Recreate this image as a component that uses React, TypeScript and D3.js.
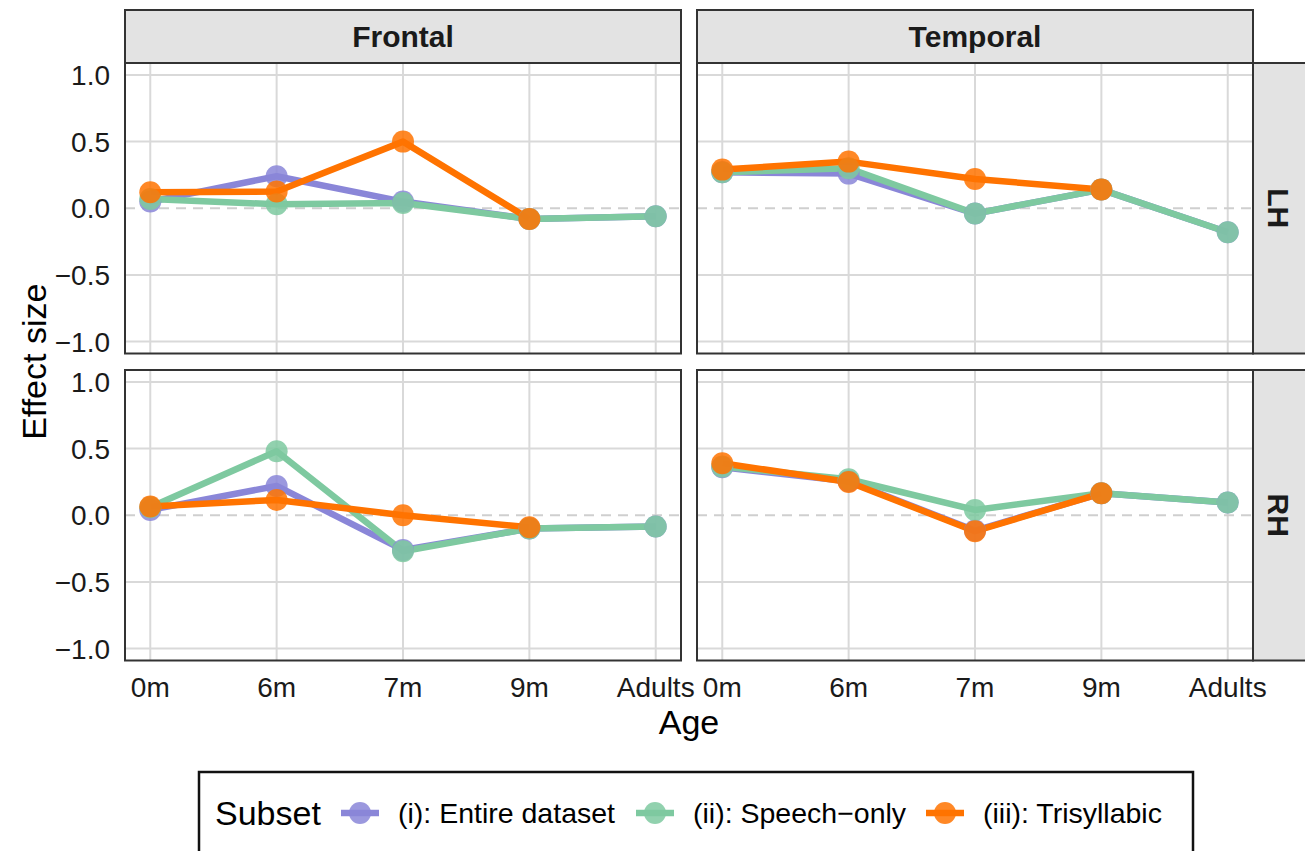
import React from "react";
import * as d3 from "d3";

const ages = ["0m", "6m", "7m", "9m", "Adults"];
const regions = ["Frontal", "Temporal"];
const hemispheres = ["LH", "RH"];
const subsets = ["(i): Entire dataset", "(ii): Speech\u2212only", "(iii): Trisyllabic"];
const subsetColors = ["#8a86d8", "#7ec9a0", "#ff7300"];
const yTicks = [1.0, 0.5, 0.0, -0.5, -1.0];
const yTickLabels = ["1.0", "0.5", "0.0", "\u22120.5", "\u22121.0"];

// values per panel: [subset][age]
const frontalLH_entire = [0.05, 0.24, 0.05, -0.08, -0.06];
const frontalLH_speech = [0.07, 0.03, 0.04, -0.08, -0.06];
const frontalLH_tri = [0.12, 0.125, 0.5, -0.08, null];

const temporalLH_entire = [0.27, 0.26, -0.04, 0.14, -0.18];
const temporalLH_speech = [0.27, 0.3, -0.04, 0.14, -0.18];
const temporalLH_tri = [0.29, 0.35, 0.22, 0.14, null];

const frontalRH_entire = [0.04, 0.22, -0.26, -0.1, -0.085];
const frontalRH_speech = [0.06, 0.48, -0.27, -0.1, -0.085];
const frontalRH_tri = [0.065, 0.115, 0.0, -0.09, null];

const temporalRH_entire = [0.36, 0.255, -0.115, 0.165, 0.095];
const temporalRH_speech = [0.365, 0.27, 0.04, 0.165, 0.095];
const temporalRH_tri = [0.39, 0.25, -0.12, 0.165, null];

const panelData: Record<string, (number | null)[][]> = {
  "Frontal-LH": [frontalLH_entire, frontalLH_speech, frontalLH_tri],
  "Temporal-LH": [temporalLH_entire, temporalLH_speech, temporalLH_tri],
  "Frontal-RH": [frontalRH_entire, frontalRH_speech, frontalRH_tri],
  "Temporal-RH": [temporalRH_entire, temporalRH_speech, temporalRH_tri],
};

const W = 1305;
const H = 851;
const colX = [125, 697];
const panelW = 556;
const rowY = [63, 370];
const panelH = 290.5;
const stripTop = 10;
const rightStripX = 1253;
const font = "'Liberation Sans', Arial, Helvetica, sans-serif";

function Panel({ region, hemi, ci, ri }: { region: string; hemi: string; ci: number; ri: number }) {
  const x0 = colX[ci];
  const y0 = rowY[ri];
  const x = d3.scalePoint<string>().domain(ages).range([x0, x0 + panelW]).padding(0.2);
  const y = d3.scaleLinear().domain([-1.09, 1.09]).range([y0 + panelH, y0]);
  const data = panelData[`${region}-${hemi}`];
  const line = d3
    .line<number | null>()
    .defined((d) => d !== null)
    .x((_, i) => x(ages[i]) as number)
    .y((d) => y(d as number));
  return (
    <g>
      <rect x={x0} y={y0} width={panelW} height={panelH} fill="#fff" />
      {yTicks
        .filter((t) => t !== 0)
        .map((t) => (
          <line key={t} x1={x0} x2={x0 + panelW} y1={y(t)} y2={y(t)} stroke="#d9d9d9" strokeWidth={2} />
        ))}
      {ages.map((a) => (
        <line key={a} x1={x(a)} x2={x(a)} y1={y0} y2={y0 + panelH} stroke="#d9d9d9" strokeWidth={2} />
      ))}
      <line x1={x0} x2={x0 + panelW} y1={y(0)} y2={y(0)} stroke="#cfcfcf" strokeWidth={2} strokeDasharray="10,7" />
      {data.map((vals, si) => (
        <path key={si} d={line(vals) || ""} fill="none" stroke={subsetColors[si]} strokeWidth={6.5} strokeLinejoin="round" />
      ))}
      {data.map((vals, si) =>
        vals.map((v, i) =>
          v === null ? null : (
            <circle key={`${si}-${i}`} cx={x(ages[i])} cy={y(v)} r={11} fill={subsetColors[si]} fillOpacity={0.85} />
          )
        )
      )}
      <rect x={x0} y={y0} width={panelW} height={panelH} fill="none" stroke="#333" strokeWidth={2} />
      {ci === 0 &&
        yTicks.map((t, i) => (
          <text key={t} x={110} y={y(t)} dy="0.36em" textAnchor="end" fontSize={28} fill="#1a1a1a" fontFamily={font}>
            {yTickLabels[i]}
          </text>
        ))}
      {ri === 1 &&
        ages.map((a) => (
          <text key={a} x={x(a)} y={697} textAnchor="middle" fontSize={28} fill="#1a1a1a" fontFamily={font}>
            {a}
          </text>
        ))}
    </g>
  );
}

export default function App() {
  const legendKeys = [360, 655, 945];
  const legendLabels = [398, 693, 983];
  return (
    <svg width={W} height={H} style={{ position: "absolute", left: 0, top: 0 }} fontFamily={font}>
      <rect x={0} y={0} width={W} height={H} fill="#fff" />
      {regions.map((r, ci) => (
        <g key={r}>
          <rect x={colX[ci]} y={stripTop} width={panelW} height={rowY[0] - stripTop} fill="#e3e3e3" stroke="#333" strokeWidth={2} />
          <text x={colX[ci] + panelW / 2} y={(stripTop + rowY[0]) / 2} dy="0.36em" textAnchor="middle" fontSize={30} fontWeight="bold" fill="#1a1a1a">
            {r}
          </text>
        </g>
      ))}
      {hemispheres.map((h, ri) => (
        <g key={h}>
          <rect x={rightStripX} y={rowY[ri]} width={60} height={panelH} fill="#e3e3e3" stroke="#333" strokeWidth={2} />
          <text
            transform={`translate(${rightStripX + 26},${rowY[ri] + panelH / 2}) rotate(90)`}
            dy="0.36em"
            textAnchor="middle"
            fontSize={30}
            fontWeight="bold"
            fill="#1a1a1a"
          >
            {h}
          </text>
        </g>
      ))}
      {hemispheres.map((h, ri) =>
        regions.map((r, ci) => <Panel key={`${r}-${h}`} region={r} hemi={h} ci={ci} ri={ri} />)
      )}
      <text x={689} y={734} textAnchor="middle" fontSize={34} fill="#000">
        Age
      </text>
      <text transform={`translate(46,${(rowY[0] + rowY[1] + panelH) / 2}) rotate(-90)`} textAnchor="middle" fontSize={34} fill="#000">
        Effect size
      </text>
      <rect x={199} y={772} width={994} height={110} fill="#fff" stroke="#111" strokeWidth={2.5} />
      <text x={215} y={825} fontSize={34} fill="#000">
        Subset
      </text>
      {subsets.map((s, i) => (
        <g key={s}>
          <line x1={legendKeys[i] - 19} x2={legendKeys[i] + 19} y1={813} y2={813} stroke={subsetColors[i]} strokeWidth={6.5} />
          <circle cx={legendKeys[i]} cy={813} r={11} fill={subsetColors[i]} fillOpacity={0.85} />
          <text x={legendLabels[i]} y={823} fontSize={28.5} fill="#000">
            {s}
          </text>
        </g>
      ))}
    </svg>
  );
}
